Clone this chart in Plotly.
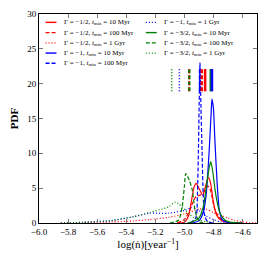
import plotly.graph_objects as go

# ---------------- data ----------------
# Gamma = -1/2 (red)
x_r10 = [-5.05, -5.00, -4.97, -4.95, -4.935, -4.919, -4.90, -4.873, -4.855, -4.835, -4.82, -4.80, -4.777, -4.74, -4.70, -4.60]
y_r10 = [0.0, 0.1, 1.1, 3.3, 5.0, 5.7, 5.0, 4.0, 5.2, 6.5, 5.8, 3.0, 1.1, 0.3, 0.1, 0.0]
x_r100 = [-5.05, -5.00, -4.97, -4.94, -4.92, -4.89, -4.86, -4.84, -4.825, -4.81, -4.79, -4.755, -4.70, -4.60]
y_r100 = [0.0, 0.5, 1.5, 3.0, 3.8, 4.0, 4.6, 5.3, 5.0, 3.8, 1.9, 0.7, 0.15, 0.0]
x_r1g = [-5.85, -5.70, -5.50, -5.35, -5.24, -5.11, -5.00, -4.90, -4.85, -4.80, -4.75, -4.70, -4.65, -4.60, -4.55, -4.50]
y_r1g = [0.0, 0.05, 0.15, 0.3, 0.5, 0.8, 1.3, 2.0, 2.0, 1.5, 1.1, 0.7, 0.35, 0.15, 0.05, 0.0]

# Gamma = -1 (blue)
x_b10 = [-4.95, -4.90, -4.87, -4.85, -4.83, -4.815, -4.81, -4.80, -4.79, -4.775, -4.76, -4.74, -4.70, -4.60]
y_b10 = [0.0, 0.3, 1.5, 4.0, 10.0, 16.0, 17.8, 16.5, 12.0, 6.0, 2.0, 0.5, 0.1, 0.0]
x_b100 = [-4.96, -4.92, -4.91, -4.903, -4.898, -4.892, -4.886, -4.878, -4.87, -4.86, -4.84, -4.80]
y_b100 = [0.0, 0.8, 4.0, 10.4, 17.0, 23.0, 17.0, 10.4, 4.0, 1.0, 0.2, 0.0]
x_b1g = [-5.85, -5.70, -5.50, -5.35, -5.24, -5.11, -5.00, -4.95, -4.90, -4.85, -4.80, -4.75, -4.70]
y_b1g = [0.0, 0.1, 0.35, 0.9, 1.4, 1.4, 1.8, 2.2, 1.8, 1.0, 0.5, 0.15, 0.0]

# Gamma = -3/2 (green)
x_g10 = [-4.98, -4.94, -4.90, -4.87, -4.845, -4.83, -4.818, -4.805, -4.79, -4.777, -4.754, -4.72, -4.69, -4.65, -4.60]
y_g10 = [0.0, 0.2, 0.7, 2.3, 5.7, 7.8, 8.8, 7.5, 5.0, 3.3, 1.4, 0.4, 0.15, 0.05, 0.0]
x_g100 = [-5.10, -5.04, -5.015, -5.00, -4.99, -4.965, -4.945, -4.93, -4.915, -4.895, -4.86]
y_g100 = [0.0, 0.4, 2.3, 5.2, 7.1, 6.1, 4.7, 2.3, 0.9, 0.1, 0.0]
x_g1g = [-5.85, -5.70, -5.60, -5.50, -5.35, -5.24, -5.11, -5.06, -5.00, -4.95, -4.90, -4.85, -4.80]
y_g1g = [0.0, 0.1, 0.2, 0.35, 0.9, 1.5, 2.3, 3.0, 2.0, 1.0, 0.4, 0.2, 0.05]

# marker positions (vertical bars near the top)
mark_r = [-4.857, -4.88, -4.966]
mark_b = [-4.81, -4.892, -5.034]
mark_g = [-4.818, -4.966, -5.087]
mark_y = [18.9, 22.1]

labels_r = ["Γ = −1/2, <i>t</i><sub>min</sub> = 10 Myr", "Γ = −1/2, <i>t</i><sub>min</sub> = 100 Myr", "Γ = −1/2, <i>t</i><sub>min</sub> = 1 Gyr"]
labels_b = ["Γ = −1, <i>t</i><sub>min</sub> = 10 Myr", "Γ = −1, <i>t</i><sub>min</sub> = 100 Myr", "Γ = −1, <i>t</i><sub>min</sub> = 1 Gyr"]
labels_g = ["Γ = −3/2, <i>t</i><sub>min</sub> = 10 Myr", "Γ = −3/2, <i>t</i><sub>min</sub> = 100 Myr", "Γ = −3/2, <i>t</i><sub>min</sub> = 1 Gyr"]

x_ticks = [-6.0, -5.8, -5.6, -5.4, -5.2, -5.0, -4.8, -4.6]
x_ticklabels = ["−6.0", "−5.8", "−5.6", "−5.4", "−5.2", "−5.0", "−4.8", "−4.6"]
y_ticks = [0, 5, 10, 15, 20, 25, 30]

# ---------------- styles ----------------
RED, BLUE, GREEN = "#ff0000", "#0000ff", "#008000"
DASHES = ["solid", "4px,2px", "1px,2px"]
FONT = "Liberation Serif"

fig = go.Figure()

series = [
    (x_r10, y_r10, RED, 0), (x_r100, y_r100, RED, 1), (x_r1g, y_r1g, RED, 2),
    (x_b10, y_b10, BLUE, 0), (x_b100, y_b100, BLUE, 1), (x_b1g, y_b1g, BLUE, 2),
    (x_g10, y_g10, GREEN, 0), (x_g100, y_g100, GREEN, 1), (x_g1g, y_g1g, GREEN, 2),
]
for xs, ys, col, d in series:
    fig.add_trace(go.Scatter(x=xs, y=ys, mode="lines", showlegend=False,
                             line=dict(color=col, width=1.2, dash=DASHES[d], shape="spline", smoothing=0.6)))

for marks, col in [(mark_g, GREEN), (mark_b, BLUE), (mark_r, RED)]:
    for i, m in enumerate(marks):
        fig.add_trace(go.Scatter(x=[m, m], y=mark_y, mode="lines", showlegend=False,
                                 line=dict(color=col, width=2.5 if i < 2 else 1.5, dash=DASHES[i])))

# ---------------- legend drawn manually (compact rows) ----------------
legend_items = [
    (labels_r[0], RED, 0), (labels_r[1], RED, 1), (labels_r[2], RED, 2),
    (labels_b[0], BLUE, 0), (labels_b[1], BLUE, 1),
    (labels_b[2], BLUE, 2), (labels_g[0], GREEN, 0), (labels_g[1], GREEN, 1), (labels_g[2], GREEN, 2),
]
shapes = []
annotations = []
row_h = 0.049
for k, (lab, col, d) in enumerate(legend_items):
    col_i = 0 if k < 5 else 1
    row = k if k < 5 else k - 5
    x0 = 0.03 if col_i == 0 else 0.49
    yy = 0.96 - row * row_h
    shapes.append(dict(type="line", xref="paper", yref="paper", x0=x0, x1=x0 + 0.05, y0=yy, y1=yy,
                       line=dict(color=col, width=1.4, dash=DASHES[d])))
    annotations.append(dict(xref="paper", yref="paper", x=x0 + 0.075, y=yy, text=lab, showarrow=False,
                            xanchor="left", yanchor="middle", font=dict(family=FONT, size=7, color="black")))

fig.update_layout(
    width=266, height=266,
    margin=dict(l=39, r=9, t=14, b=43),
    paper_bgcolor="white", plot_bgcolor="white",
    font=dict(family=FONT, size=9, color="black"),
    shapes=shapes, annotations=annotations,
    xaxis=dict(range=[-6.0, -4.5], tickvals=x_ticks, ticktext=x_ticklabels, ticks="inside", ticklen=4,
               tickwidth=0.6, tickcolor="#777", showline=True, linecolor="black", linewidth=1, mirror="ticks",
               showgrid=False, zeroline=False, tickfont=dict(family=FONT, size=9),
               title=dict(text="log(ṅ)[year<sup>−1</sup>]", font=dict(family=FONT, size=11), standoff=4)),
    yaxis=dict(range=[0, 30], tickvals=y_ticks, ticks="inside", ticklen=4, tickwidth=0.6, tickcolor="#777",
               showline=True, linecolor="black", linewidth=1, mirror="ticks", showgrid=False, zeroline=False,
               tickfont=dict(family=FONT, size=9),
               title=dict(text="<b>PDF</b>", font=dict(family=FONT, size=11), standoff=6)),
)

fig.write_html("out.html", config={"displayModeBar": False},
               post_script="document.body.style.margin='0';document.body.style.padding='0';")
